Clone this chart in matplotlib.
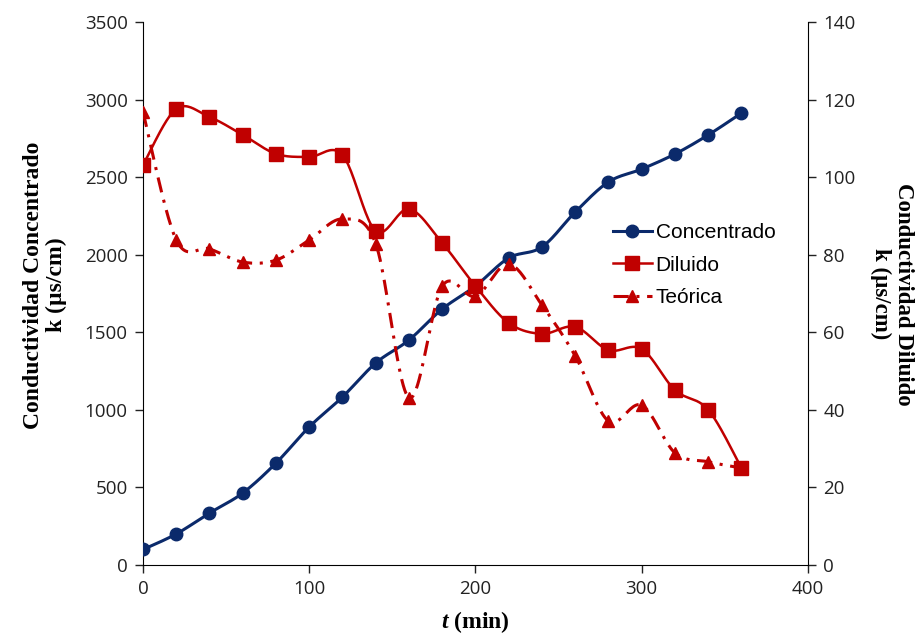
import matplotlib.pyplot as plt
from matplotlib.lines import Line2D
import numpy as np

# Data
t_min = [0, 20, 40, 60, 80, 100, 120, 140, 160, 180, 200,
         220, 240, 260, 280, 300, 320, 340, 360]
concentrado = [100, 200, 335, 464, 657, 890, 1083, 1302, 1450, 1650, 1798,
               1979, 2050, 2275, 2469, 2552, 2649, 2772, 2913]
diluido = [103.1, 117.6, 115.5, 110.9, 106.0, 105.2, 105.7, 86.1, 91.8, 83.0, 71.9,
           62.4, 59.6, 61.4, 55.4, 55.7, 45.1, 40.0, 25.0]
teorica = [116.8, 83.8, 81.5, 78.1, 78.6, 83.8, 89.2, 82.8, 43.1, 71.9, 69.3,
           77.6, 67.0, 53.9, 37.1, 41.2, 28.9, 26.6, 25.0]

BLUE = '#0B2A6B'
RED = '#C00000'
DASHDOT = (0, (5, 2.5, 1, 2.5))

plt.rcParams['mathtext.fontset'] = 'custom'
plt.rcParams['mathtext.it'] = 'Liberation Serif:italic:bold'
plt.rcParams['mathtext.rm'] = 'Liberation Serif:bold'


def smooth(x, y, n=24):
    # Excel-style smoothed line (Bezier through the points), used only for the drawn line
    pts = np.column_stack([x, y]).astype(float)
    out = [pts[0]]
    for i in range(len(pts) - 1):
        p0 = pts[i - 1] if i > 0 else pts[i]
        p1, p2 = pts[i], pts[i + 1]
        p3 = pts[i + 2] if i + 2 < len(pts) else pts[i + 1]
        c1 = p1 + (p2 - p0) / 6
        c2 = p2 - (p3 - p1) / 6
        s = np.linspace(0, 1, n)[1:, None]
        seg = ((1 - s) ** 3) * p1 + 3 * ((1 - s) ** 2) * s * c1 + 3 * (1 - s) * s ** 2 * c2 + s ** 3 * p2
        out.extend(seg)
    out = np.array(out)
    return out[:, 0], out[:, 1]


def smooth_scaled(x, y, xr, yr):
    # smooth in screen proportions so the curves bend like the original
    xs, ys = smooth(np.array(x) / xr, np.array(y) / yr)
    return xs * xr, ys * yr


fig = plt.figure(figsize=(9.19, 6.39), dpi=100)
ax1 = fig.add_axes([0.1556, 0.1158, 0.7236, 0.8498])
ax2 = ax1.twinx()

tick_font = 'Open Sans'
label_font = 'Liberation Serif'
aspect = 0.8498 / 0.7236 * 639 / 919

# Concentrado on the left axis
xs, ys = smooth_scaled(t_min, concentrado, 400, 3500 * aspect)
ax1.plot(xs, ys, color=BLUE, lw=2.2, zorder=3)
ax1.plot(t_min, concentrado, 'o', color=BLUE, ms=9, zorder=4)

# Diluido and Teórica on the right axis
xs, ys = smooth_scaled(t_min, diluido, 400, 140 * aspect)
ax2.plot(xs, ys, color=RED, lw=1.8, zorder=3)
ax2.plot(t_min, diluido, 's', color=RED, ms=10.5, zorder=4)
xs, ys = smooth_scaled(t_min, teorica, 400, 140 * aspect)
ax2.plot(xs, ys, color=RED, lw=2.2, ls=DASHDOT, zorder=3)
ax2.plot(t_min, teorica, '^', color=RED, ms=8, zorder=4)

ax1.set_xlim(0, 400)
ax1.set_ylim(0, 3500)
ax2.set_ylim(0, 140)
ax1.set_xticks(range(0, 401, 100))
ax1.set_yticks(range(0, 3501, 500))
ax2.set_yticks(range(0, 141, 20))

for ax in (ax1, ax2):
    ax.spines['top'].set_visible(False)
    ax.tick_params(direction='out', length=6, width=1, labelsize=13.5, pad=5, colors='#222222')
    for lab in ax.get_xticklabels() + ax.get_yticklabels():
        lab.set_fontfamily(tick_font)
ax1.spines['right'].set_visible(False)
ax2.spines['left'].set_visible(False)
ax2.spines['bottom'].set_visible(False)

# axis titles
fig.text(475 / 919, 1 - 622 / 639, r'$t$ (min)', fontsize=17, fontweight='bold',
         family=label_font, ha='center', va='center')
fig.text(45 / 919, 1 - 285 / 639, 'Conductividad Concentrado\nk (µs/cm)', fontsize=17,
         fontweight='bold', family=label_font, rotation=90, ha='center', va='center',
         linespacing=1.15, multialignment='center')
fig.text(892 / 919, 1 - 294 / 639, 'Conductividad Diluido\nk (µs/cm)', fontsize=16.5,
         fontweight='bold', family=label_font, rotation=-90, ha='center', va='center',
         linespacing=1.15, multialignment='center')

handles = [
    Line2D([], [], color=BLUE, lw=2.2, marker='o', ms=9),
    Line2D([], [], color=RED, lw=1.8, marker='s', ms=10.5),
    Line2D([], [], color=RED, lw=2.2, ls=DASHDOT, marker='^', ms=8),
]
leg = ax2.legend(handles, ['Concentrado', 'Diluido', 'Teórica'], loc='upper left',
                 bbox_to_anchor=(613 / 919, 1 - 223 / 639), bbox_transform=fig.transFigure,
                 frameon=False, handlelength=1.85, handletextpad=0.2, labelspacing=0.65,
                 borderpad=0, borderaxespad=0,
                 prop={'family': 'Liberation Sans', 'size': 15})

fig.savefig('out.png', dpi=100)
